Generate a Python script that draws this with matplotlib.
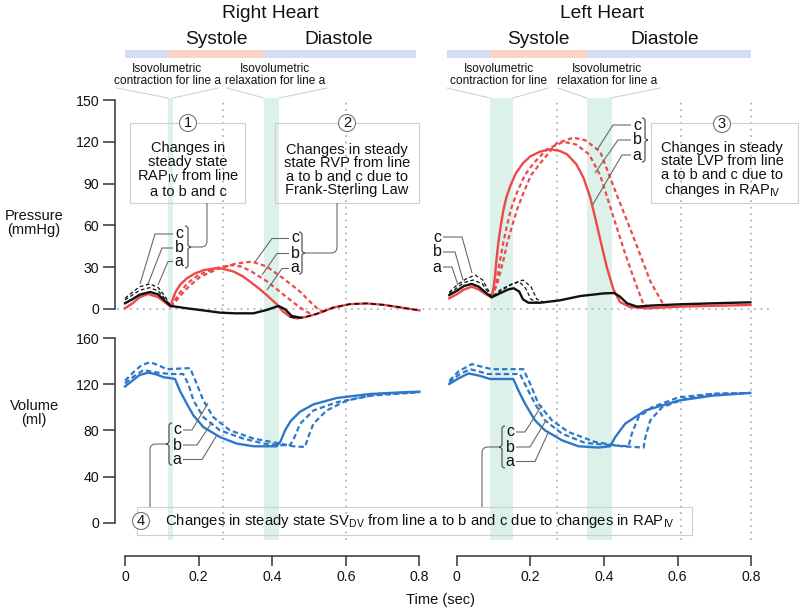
import math
import matplotlib
matplotlib.use('Agg')
import matplotlib.pyplot as plt
from matplotlib.patches import Rectangle, Circle, PathPatch
from matplotlib.path import Path

plt.rcParams['font.family'] = ['Liberation Sans', 'DejaVu Sans']
plt.rcParams['mathtext.fontset'] = 'custom'
plt.rcParams['mathtext.rm'] = 'Liberation Sans'
plt.rcParams['mathtext.it'] = 'Liberation Sans'

# ---------------- data (time in s, pressure mmHg, volume ml) ----------------
# right heart: atrial pressure (black), ventricular pressure (red)
rap_t_a = [0, 0.02, 0.04, 0.068, 0.09, 0.11, 0.124, 0.168, 0.204, 0.258, 0.30, 0.349, 0.385, 0.417, 0.435, 0.453, 0.476]
rap_a = [4.1, 7.0, 10.3, 12.2, 10.5, 5.5, 2.2, 0.5, -0.7, -2.6, -3.1, -3.1, -0.7, 2.2, -0.2, -5.0, -6.2]
rap_t_bc = [0, 0.02, 0.04, 0.067, 0.09, 0.11, 0.124]
rap_b = [6.5, 10.0, 13.5, 15.3, 13.0, 7.0, 2.2]
rap_c = [7.7, 12.0, 16.0, 18.0, 15.5, 8.5, 2.2]

rvp_t_a = [0, 0.02, 0.04, 0.063, 0.09, 0.11, 0.124, 0.13, 0.137, 0.15, 0.168, 0.19, 0.215, 0.255, 0.294,
           0.32, 0.34, 0.365, 0.385, 0.412, 0.43, 0.448, 0.466, 0.49, 0.521, 0.566, 0.611, 0.657, 0.702, 0.747, 0.8]
rvp_a = [0.5, 4.0, 8.5, 10.8, 8.5, 4.5, 1.7, 7.0, 12.0, 17.5, 22.0, 25.5, 28.0, 29.5, 27.0,
         23.5, 19.6, 14.5, 10.0, 3.5, -2.0, -5.5, -6.7, -5.8, -3.5, 1.0, 3.5, 4.0, 3.0, 1.2, -1.0]
rvp_t_b = [0.124, 0.135, 0.15, 0.17, 0.2, 0.25, 0.29, 0.315, 0.34, 0.385, 0.43, 0.466, 0.485, 0.503]
rvp_b = [1.7, 6.0, 12.0, 18.5, 24.5, 29.5, 31.5, 30.5, 27.5, 20.0, 10.5, 3.0, -0.7, -3.3]
rvp_t_c = [0.124, 0.138, 0.155, 0.175, 0.204, 0.25, 0.3, 0.345, 0.385, 0.43, 0.476, 0.503, 0.525, 0.548]
rvp_c = [1.7, 5.5, 11.0, 16.5, 23.0, 28.5, 32.5, 34.0, 30.5, 22.0, 12.4, 5.2, -0.2, -2.8]

# left heart: atrial pressure (black), ventricular pressure (red)
lap_t_a = [0, 0.02, 0.04, 0.061, 0.08, 0.1, 0.115, 0.138, 0.16, 0.175, 0.19, 0.2, 0.215, 0.247, 0.3,
           0.356, 0.42, 0.448, 0.464, 0.483, 0.51, 0.55, 0.628, 0.72, 0.818]
lap_a = [10.0, 13.0, 16.5, 18.0, 16.0, 11.5, 8.4, 11.3, 14.0, 14.9, 12.5, 7.0, 4.5, 4.5, 6.2,
         9.3, 11.2, 11.5, 8.8, 4.1, 1.7, 2.5, 3.4, 4.1, 4.8]
lap_t_b = [0, 0.02, 0.04, 0.065, 0.09, 0.105, 0.115, 0.14, 0.165, 0.19, 0.207, 0.222, 0.24]
lap_b = [11.0, 15.0, 19.0, 20.8, 18.0, 12.0, 8.4, 13.0, 17.0, 19.6, 15.0, 7.0, 4.5]
lap_t_c = [0, 0.02, 0.045, 0.07, 0.09, 0.105, 0.115, 0.14, 0.17, 0.2, 0.222, 0.238, 0.26]
lap_c = [12.0, 17.0, 21.5, 24.4, 21.0, 14.0, 8.4, 14.0, 18.0, 20.8, 16.0, 7.0, 4.5]

lvp_t_a = [0, 0.02, 0.04, 0.061, 0.08, 0.1, 0.115, 0.12, 0.124, 0.128, 0.133, 0.14, 0.147, 0.155, 0.165,
           0.18, 0.2, 0.22, 0.247, 0.274, 0.3, 0.32, 0.345, 0.365, 0.383, 0.396, 0.41, 0.428, 0.446,
           0.464, 0.49, 0.537, 0.628, 0.72, 0.818]
lvp_a = [7.7, 10.5, 14.0, 16.0, 14.0, 10.5, 8.4, 15.0, 23.0, 35.0, 47.0, 60.0, 71.0, 80.0, 87.8,
         97.0, 104.6, 109.5, 113.0, 114.6, 113.5, 111.0, 104.0, 94.0, 80.0, 66.0, 50.0, 30.0, 14.0,
         5.0, 1.5, 0.5, 1.7, 2.3, 2.9]
lvp_t_b = [0.115, 0.127, 0.138, 0.147, 0.156, 0.168, 0.183, 0.205, 0.229, 0.265, 0.31, 0.345, 0.38, 0.41,
           0.446, 0.475, 0.5, 0.528, 0.55]
lvp_b = [8.4, 18.0, 35.0, 48.0, 59.0, 72.0, 83.0, 96.0, 104.6, 114.6, 120.0, 118.0, 111.0, 96.0,
         66.0, 42.0, 23.0, 3.0, 0.8]
lvp_t_c = [0.115, 0.13, 0.147, 0.158, 0.17, 0.185, 0.201, 0.222, 0.247, 0.292, 0.337, 0.37, 0.41, 0.455,
           0.5, 0.546, 0.582, 0.6]
lvp_c = [8.4, 18.0, 35.0, 48.0, 59.0, 72.0, 83.0, 96.0, 104.6, 119.0, 123.0, 121.0, 113.0, 82.0,
         52.0, 20.0, 3.0, 0.8]

# ventricular volumes
rv_t_a = [0, 0.02, 0.04, 0.063, 0.085, 0.105, 0.122, 0.136, 0.149, 0.168, 0.186, 0.213, 0.258, 0.303, 0.349,
          0.412, 0.422, 0.435, 0.45, 0.475, 0.512, 0.575, 0.666, 0.756, 0.8]
rv_a = [118.0, 123.0, 128.0, 130.0, 128.5, 126.0, 125.3, 124.5, 114.4, 103.0, 92.9, 82.8, 74.2, 68.6, 66.2,
        66.2, 70.0, 80.0, 88.0, 96.0, 102.5, 108.0, 111.5, 113.0, 113.5]
rv_t_b = [0, 0.025, 0.05, 0.09, 0.122, 0.158, 0.172, 0.186, 0.213, 0.258, 0.321, 0.376, 0.421, 0.448,
          0.457, 0.476, 0.512, 0.575, 0.666, 0.8]
rv_b = [120.7, 127.0, 132.2, 130.0, 128.8, 128.8, 120.2, 105.8, 91.4, 80.0, 72.9, 68.6, 67.1, 67.1,
        71.4, 85.8, 97.2, 104.3, 110.0, 113.0]
rv_t_c = [0, 0.025, 0.045, 0.068, 0.09, 0.113, 0.177, 0.195, 0.213, 0.24, 0.285, 0.349, 0.421, 0.457,
          0.489, 0.498, 0.512, 0.548, 0.602, 0.693, 0.8]
rv_c = [123.0, 131.0, 136.5, 139.0, 136.5, 133.0, 133.9, 120.2, 105.8, 91.4, 80.0, 72.9, 68.6, 66.2,
        65.6, 74.2, 85.8, 97.2, 105.8, 111.6, 113.0]

lv_t_a = [0, 0.025, 0.052, 0.08, 0.111, 0.174, 0.188, 0.206, 0.233, 0.26, 0.306, 0.351, 0.405, 0.437,
          0.451, 0.478, 0.533, 0.623, 0.714, 0.818]
lv_a = [120.2, 125.0, 129.3, 127.5, 124.5, 124.5, 114.4, 103.0, 88.6, 80.0, 71.4, 66.2, 65.1, 66.2,
        74.2, 85.8, 97.2, 105.8, 110.0, 112.4]
lv_t_b = [0, 0.025, 0.056, 0.08, 0.106, 0.192, 0.21, 0.233, 0.26, 0.306, 0.369, 0.442, 0.487, 0.496,
          0.514, 0.551, 0.623, 0.714, 0.818]
lv_b = [121.5, 128.0, 133.0, 131.0, 128.8, 128.8, 117.2, 103.0, 88.6, 77.2, 69.1, 67.1, 66.2, 77.2,
        91.4, 100.0, 108.6, 111.6, 112.4]
lv_t_c = [0, 0.025, 0.061, 0.09, 0.115, 0.201, 0.22, 0.242, 0.279, 0.324, 0.397, 0.469, 0.528, 0.533,
          0.546, 0.578, 0.641, 0.714, 0.818]
lv_c = [123.0, 131.0, 137.4, 135.0, 133.0, 133.0, 120.2, 103.0, 88.6, 78.5, 69.9, 66.2, 65.1, 74.2,
        88.6, 100.0, 107.3, 111.6, 112.4]

# phases (start of systole, end of systole, end of trace) and isovolumetric windows
rh_phase = [0.0, 0.12, 0.375, 0.79]
lh_phase = [-0.006, 0.11, 0.375, 0.82]
rh_iso = [(0.1175, 0.131), (0.378, 0.419)]
lh_iso = [(0.1116, 0.1733), (0.3755, 0.441)]
rh_marks = [0.265, 0.6]
lh_marks = [0.292, 0.629, 0.82]

p_ticks = [0, 30, 60, 90, 120, 150]
v_ticks = [0, 40, 80, 120, 160]
t_ticks = [0, 0.2, 0.4, 0.6, 0.8]

RED = '#f04848'
BLUE = '#2f78c9'
BLK = '#111111'
GREEN = '#dcf1e9'
GRID = '#b3b3c3'
AX = '#333333'
LEAD = '#6a6a6a'

W, H = 800, 610
PX = 368.0  # pixels per second
fig = plt.figure(figsize=(8, 6.1), dpi=100)


def px_axes(x0, y0, x1, y1, z=1):
    a = fig.add_axes([x0 / W, 1 - y1 / H, (x1 - x0) / W, (y1 - y0) / H], zorder=z)
    a.patch.set_visible(False)
    return a


def bare(a):
    for s in a.spines.values():
        s.set_visible(False)
    a.set_xticks([])
    a.set_yticks([])


panels = [
    dict(x0=125, tmax=0.8, phase=rh_phase, iso=rh_iso, marks=rh_marks, tick_x0=125),
    dict(x0=449.3, tmax=0.82, phase=lh_phase, iso=lh_iso, marks=lh_marks, tick_x0=456.7),
]

pax, vax = [], []
for i, p in enumerate(panels):
    x0 = p['x0']
    x1 = x0 + p['tmax'] * PX
    # background: isovolumetric bands + dotted markers
    bg = px_axes(x0, 98, x1, 540, z=0)
    bare(bg)
    bg.set_xlim(0, p['tmax'])
    bg.set_ylim(0, 1)
    for a0, a1 in p['iso']:
        bg.axvspan(a0, a1, color=GREEN, lw=0)
    for m in p['marks']:
        bg.axvline(m, color=GRID, ls=(0, (1, 2.6)), lw=1.3, clip_on=False)

    # phase bar
    ph = px_axes(x0, 50, x1, 58, z=1)
    bare(ph)
    ph.set_xlim(0, p['tmax'])
    ph.set_ylim(0, 1)
    s = p['phase']
    ph.barh(0.5, s[1] - s[0], left=s[0], height=1, color='#d4dcf7', lw=0, clip_on=False)
    ph.barh(0.5, s[2] - s[1], left=s[1], height=1, color='#fcd3c2', lw=0)
    ph.barh(0.5, s[3] - s[2], left=s[2], height=1, color='#d4dcf7', lw=0, clip_on=False)

    pa = px_axes(x0, 100, x1, 309, z=2)
    va = px_axes(x0, 338, x1, 522.7, z=2)
    for a, lim in ((pa, 150), (va, 160)):
        a.set_xlim(0, p['tmax'])
        a.set_ylim(0, lim)
        for k in ('top', 'right', 'bottom'):
            a.spines[k].set_visible(False)
        a.set_xticks([])
        if i == 0:
            a.spines['left'].set_position(('outward', 7.2))
            a.spines['left'].set_color(AX)
            a.spines['left'].set_linewidth(1.1)
            a.tick_params(axis='y', direction='out', length=9, width=1.1, colors=AX,
                          labelcolor='#111', labelsize=10.2, pad=2.5)
        else:
            a.spines['left'].set_visible(False)
            a.set_yticks([])
    if i == 0:
        pa.set_yticks(p_ticks)
        va.set_yticks(v_ticks)
    pax.append(pa)
    vax.append(va)

    # time axis
    ta = px_axes(p['tick_x0'], 555, p['tick_x0'] + 0.8 * PX, 556, z=2)
    for k in ('top', 'right', 'left'):
        ta.spines[k].set_visible(False)
    ta.spines['bottom'].set_color(AX)
    ta.spines['bottom'].set_linewidth(1.1)
    ta.set_xlim(0, 0.8)
    ta.set_yticks([])
    ta.set_xticks(t_ticks)
    ta.set_xticklabels(['0', '0.2', '0.4', '0.6', '0.8'])
    ta.tick_params(axis='x', direction='out', length=7, width=1.1, colors=AX,
                   labelcolor='#111', labelsize=10.2, pad=3)

# zero-pressure dotted line across both panels
pax[0].plot([-0.022, 1.755], [0, 0], color=GRID, ls=(0, (1, 2.6)), lw=1.3, clip_on=False, zorder=1)

red_d = dict(color=RED, lw=1.6, ls=(0, (2.0, 1.4)), clip_on=False)
blk_d = dict(color=BLK, lw=0.9, ls=(0, (3, 2)), clip_on=False)
blue_d = dict(color=BLUE, lw=1.6, ls=(0, (2.4, 1.4)), clip_on=False)

# right heart pressures
a = pax[0]
a.plot(rvp_t_b, rvp_b, zorder=3, **red_d)
a.plot(rvp_t_c, rvp_c, zorder=3, **red_d)
a.plot(rvp_t_a, rvp_a, color=RED, lw=1.7, clip_on=False, zorder=4)
a.plot(rap_t_a, rap_a, color=BLK, lw=1.7, clip_on=False, zorder=5)
a.plot(rap_t_bc, rap_b, zorder=5, **blk_d)
a.plot(rap_t_bc, rap_c, zorder=5, **blk_d)
a.plot(rvp_t_a[21:], rvp_a[21:], zorder=5, **dict(blk_d, lw=1.2))

# left heart pressures
a = pax[1]
a.plot(lvp_t_b, lvp_b, zorder=3, **red_d)
a.plot(lvp_t_c, lvp_c, zorder=3, **red_d)
a.plot(lvp_t_a, lvp_a, color=RED, lw=1.7, clip_on=False, zorder=4)
a.plot(lap_t_a, lap_a, color=BLK, lw=1.7, clip_on=False, zorder=5)
a.plot(lap_t_b, lap_b, zorder=5, **blk_d)
a.plot(lap_t_c, lap_c, zorder=5, **blk_d)

# volumes
for a, ta_, ya, tb, yb, tc, yc in ((vax[0], rv_t_a, rv_a, rv_t_b, rv_b, rv_t_c, rv_c),
                                   (vax[1], lv_t_a, lv_a, lv_t_b, lv_b, lv_t_c, lv_c)):
    a.plot(tb, yb, zorder=3, **blue_d)
    a.plot(tc, yc, zorder=3, **blue_d)
    a.plot(ta_, ya, color=BLUE, lw=1.7, clip_on=False, zorder=4)

# ---------------- overlay: text and annotations in pixel space ----------------
ov = fig.add_axes([0, 0, 1, 1], zorder=5)
ov.set_xlim(0, W)
ov.set_ylim(H, 0)
ov.axis('off')
ov.patch.set_visible(False)

T = dict(ha='center', va='center', color='#111')
ov.text(270, 14, 'Right Heart', fontsize=13.8, **T)
ov.text(602, 14, 'Left Heart', fontsize=13.8, **T)
for x, s in ((216, 'Systole'), (339, 'Diastole'), (538, 'Systole'), (665, 'Diastole')):
    ov.text(x, 40, s, fontsize=13.8, **T)

iso_fam = ['Liberation Sans Narrow', 'Liberation Sans', 'DejaVu Sans']
for x, s in ((167, 'Isovolumetric\ncontraction for line a'), (275, 'Isovolumetric\nrelaxation for line a'),
             (499, 'Isovolumetric\ncontraction for line'), (607, 'Isovolumetric\nrelaxation for line a')):
    ov.text(x, 75, s, fontsize=8.6, linespacing=1.05, family=iso_fam, **T)

funnel = [((117, 88), (168, 98)), ((218, 88), (173, 98)),
          ((227, 88), (264, 98)), ((327, 88), (279, 98)),
          ((447, 88), (490, 98)), ((548, 88), (513, 98)),
          ((558, 88), (587, 98)), ((660, 88), (611, 98))]
for (xa, ya_), (xb, yb_) in funnel:
    ov.plot([xa, xb], [ya_, yb_], color='#d2d2d2', lw=0.8)

ov.text(34, 223, 'Pressure\n(mmHg)', fontsize=10.5, linespacing=0.95, **T)
ov.text(34, 413, 'Volume\n(ml)', fontsize=10.5, linespacing=0.95, **T)
ov.text(440, 600, 'Time (sec)', fontsize=10.5, **T)

# boxes with circled numbers
for (bx0, by0, bx1, by1) in ((130, 123, 245, 203), (275, 123, 419, 203), (651, 123, 798, 203), (137, 507, 692, 535)):
    ov.add_patch(Rectangle((bx0, by0), bx1 - bx0, by1 - by0, fill=False, ec='#cfcfcf', lw=0.8))
for (cx, cy, n) in ((188, 123, '1'), (347, 123, '2'), (722, 124, '3'), (141, 521, '4')):
    ov.add_patch(Circle((cx, cy), 8.5, fc='white', ec='#777777', lw=0.8, zorder=3))
    ov.text(cx, cy, n, fontsize=10.5, zorder=4, **T)

ov.text(188, 170, 'Changes in\nsteady state\nRAP$_{\\mathrm{IV}}$ from line\na to b and c',
        fontsize=10.5, linespacing=0.95, **T)
ov.text(347, 170, 'Changes in steady\nstate RVP from line\na to b and c due to\nFrank-Sterling Law',
        fontsize=10.5, linespacing=0.95, **T)
ov.text(722, 170, 'Changes in steady\nstate LVP from line\na to b and c due to\nchanges in RAP$_{\\mathrm{IV}}$',
        fontsize=10.5, linespacing=0.95, **T)
ov.text(165, 521, 'Changes in steady state SV$_{\\mathrm{DV}}$ from line a to b and c due to changes in RAP$_{\\mathrm{IV}}$',
        fontsize=10.7, ha='left', va='center', color='#111')


def line(pts, c=LEAD, lw=0.8):
    xs, ys = zip(*pts)
    ov.plot(xs, ys, color=c, lw=lw, solid_capstyle='butt', solid_joinstyle='round')


def elbow(p0, corner, p1, r=6):
    def toward(a, b, d):
        dx, dy = b[0] - a[0], b[1] - a[1]
        L = math.hypot(dx, dy)
        return (a[0] + dx / L * d, a[1] + dy / L * d)
    q0 = toward(corner, p0, r)
    q1 = toward(corner, p1, r)
    path = Path([p0, q0, corner, q1, p1],
                [Path.MOVETO, Path.LINETO, Path.CURVE3, Path.CURVE3, Path.LINETO])
    ov.add_patch(PathPatch(path, fill=False, ec=LEAD, lw=0.8))


def brace(x, y0, y1, side=1, w=6):
    ym = (y0 + y1) / 2
    xm = x + side * w / 2
    xt = x + side * w
    q = w / 2
    verts = [(x, y0), (xm, y0), (xm, y0 + q), (xm, ym - q), (xm, ym), (xt, ym),
             (xm, ym), (xm, ym + q), (xm, y1 - q), (xm, y1), (x, y1)]
    codes = [Path.MOVETO, Path.CURVE3, Path.CURVE3, Path.LINETO, Path.CURVE3, Path.CURVE3,
             Path.CURVE3, Path.CURVE3, Path.LINETO, Path.CURVE3, Path.CURVE3]
    ov.add_patch(PathPatch(Path(verts, codes), fill=False, ec='#555555', lw=0.9))


def letters(x, ys):
    for y, s in zip(ys, 'cba'):
        ov.text(x, y, s, fontsize=11.5, **T)


# group 1: RAP lines
letters(179, (233, 247, 261))
brace(185, 226, 268, 1)
elbow((191, 247), (207, 247), (207, 203))
line([(173, 234), (155, 234), (140, 284)])
line([(173, 248), (162, 248), (148, 284)])
line([(173, 261.5), (168, 261.5), (158, 285)])

# group 2: RVP lines
letters(295, (238, 253, 268))
brace(299, 232, 274, 1)
elbow((305, 253), (337, 253), (337, 203))
line([(289, 238.5), (272, 238.5), (255, 262)])
line([(289, 253.5), (277, 253.5), (262, 275)])
line([(289, 268.5), (282, 268.5), (267, 290)])

# group 3: LAP lines
letters(437, (237, 252, 267))
line([(443, 237), (462, 237), (472, 273)])
line([(443, 252), (455, 252), (463, 280)])
line([(443, 267), (452, 267), (458, 285)])

# group 4: LVP lines
letters(637, (125, 140, 155))
brace(642, 118, 162, 1)
line([(631, 125), (613, 125), (597, 150)])
line([(631, 140), (618, 140), (595, 173)])
line([(631, 155), (622, 155), (592, 206)])

# group 5: RV volume
letters(177, (430, 445, 459))
brace(172, 423, 465, -1)
elbow((166, 444), (150, 444), (150, 507))
line([(183, 430), (192, 430), (208, 403)])
line([(183, 445), (197, 445), (212, 422)])
line([(183, 459.5), (202, 459.5), (217, 435)])

# group 6: LV volume
letters(510, (432, 447, 461))
brace(505, 426, 468, -1)
elbow((499, 447), (482, 447), (482, 507))
line([(516, 432), (525, 432), (542, 405)])
line([(516, 447), (530, 447), (545, 422)])
line([(516, 461.5), (535, 461.5), (548, 433)])

fig.savefig('out.png', dpi=100)
